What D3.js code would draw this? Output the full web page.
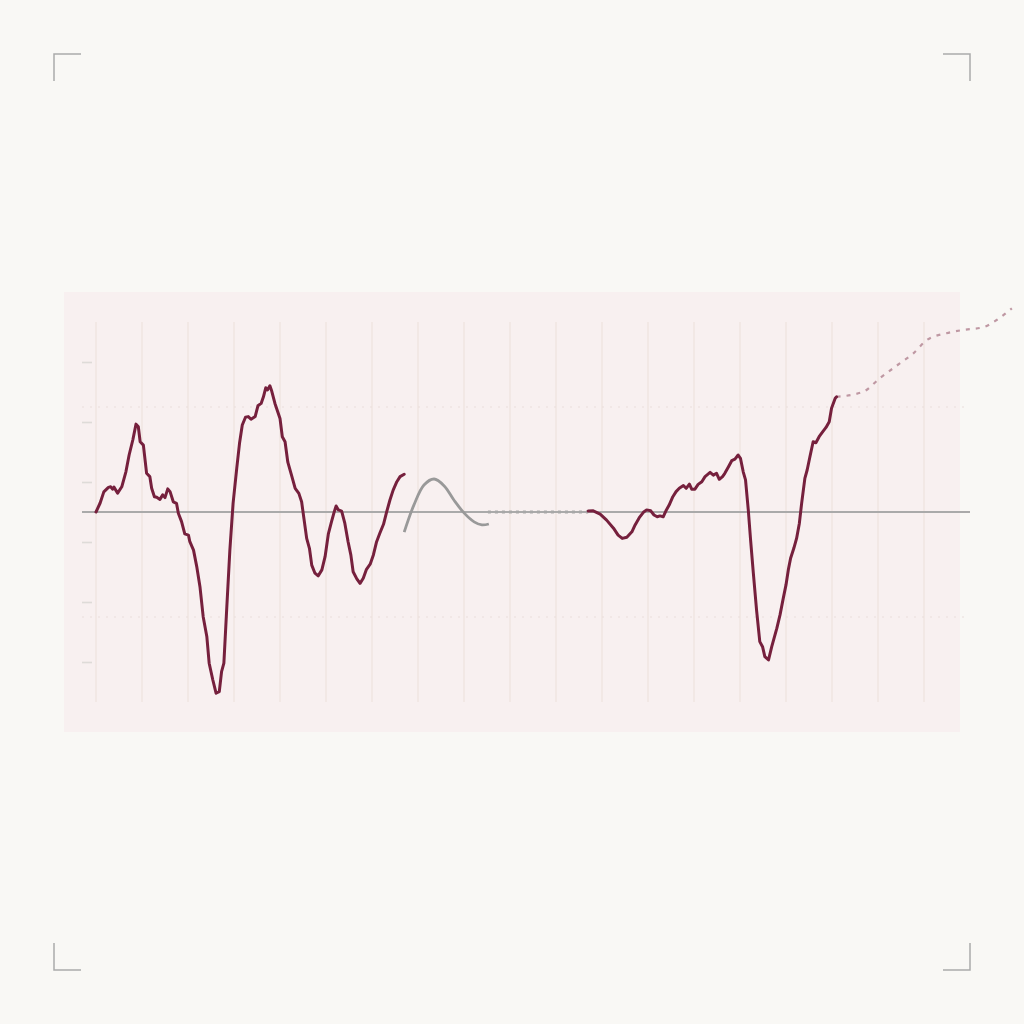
<!DOCTYPE html>
<html>
<head>
<meta charset="utf-8">
<script src="https://cdn.jsdelivr.net/npm/d3@7"></script>
<style>
  html, body { margin: 0; padding: 0; background: #f9f8f5; }
  svg { display: block; font-family: "Noto Sans", sans-serif; }
</style>
</head>
<body>
<svg id="chart" width="1024" height="1024"></svg>
<script>
// x in grid steps (0..18), y in chart units
const xTicks = d3.range(0, 19)
const yTicks = [-5, -3, -1, 1, 3, 5]
const refLevels = [-3.5, 3.5]

const pastX = [0, 0.09, 0.17, 0.27, 0.32, 0.36, 0.39, 0.47, 0.56, 0.65, 0.72, 0.80, 0.87, 0.92, 0.96, 1.03, 1.10, 1.17, 1.21, 1.27, 1.32, 1.39, 1.45, 1.50, 1.56, 1.61, 1.68, 1.75, 1.79, 1.86, 1.93, 2.01, 2.04, 2.12, 2.19, 2.26, 2.33, 2.41, 2.46, 2.54, 2.61, 2.68, 2.73, 2.78, 2.84, 2.91, 2.98, 3.06, 3.12, 3.18, 3.25, 3.31, 3.37, 3.46, 3.52, 3.59, 3.64, 3.69, 3.73, 3.78, 3.82, 3.89, 4.00, 4.05, 4.11, 4.17, 4.25, 4.33, 4.41, 4.47, 4.58, 4.64, 4.69, 4.76, 4.83, 4.91, 4.98, 5.05, 5.12, 5.18, 5.22, 5.27, 5.34, 5.41, 5.48, 5.54, 5.59, 5.67, 5.74, 5.81, 5.88, 5.96, 6.03, 6.10, 6.17, 6.25, 6.32, 6.39, 6.46, 6.54, 6.61, 6.70]
const pastY = [0, 0.30, 0.67, 0.82, 0.84, 0.76, 0.83, 0.63, 0.84, 1.34, 1.90, 2.40, 2.93, 2.84, 2.34, 2.23, 1.29, 1.18, 0.79, 0.51, 0.49, 0.42, 0.57, 0.48, 0.77, 0.68, 0.34, 0.29, -0.04, -0.32, -0.73, -0.77, -0.99, -1.27, -1.82, -2.49, -3.49, -4.16, -5.04, -5.60, -6.04, -5.99, -5.32, -5.04, -3.27, -1.27, 0.29, 1.46, 2.29, 2.90, 3.16, 3.18, 3.09, 3.18, 3.54, 3.62, 3.84, 4.14, 4.07, 4.21, 4.03, 3.62, 3.12, 2.51, 2.34, 1.66, 1.23, 0.79, 0.62, 0.34, -0.88, -1.21, -1.77, -2.04, -2.13, -1.93, -1.49, -0.74, -0.32, 0.01, 0.20, 0.07, 0.03, -0.38, -0.99, -1.43, -1.99, -2.23, -2.38, -2.21, -1.91, -1.74, -1.43, -0.99, -0.71, -0.41, 0.01, 0.40, 0.73, 1.01, 1.18, 1.26]

const waveX = [6.70, 6.91, 7.13, 7.35, 7.57, 7.78, 8.00, 8.22, 8.39, 8.54]
const waveY = [-0.67, 0.23, 0.90, 1.10, 0.87, 0.40, -0.03, -0.33, -0.43, -0.40]

const gapX = [8.52, 10.70]
const gapY = [0, 0]

const recentX = [10.70, 10.81, 10.96, 11.10, 11.25, 11.35, 11.44, 11.54, 11.65, 11.72, 11.81, 11.90, 11.97, 12.06, 12.13, 12.20, 12.26, 12.33, 12.39, 12.46, 12.54, 12.61, 12.68, 12.77, 12.83, 12.90, 12.95, 13.02, 13.09, 13.17, 13.24, 13.35, 13.42, 13.49, 13.55, 13.62, 13.67, 13.75, 13.82, 13.89, 13.96, 14.01, 14.07, 14.12, 14.18, 14.23, 14.29, 14.36, 14.43, 14.49, 14.54, 14.62, 14.69, 14.80, 14.87, 14.94, 15.00, 15.05, 15.10, 15.17, 15.23, 15.29, 15.34, 15.41, 15.46, 15.52, 15.59, 15.65, 15.72, 15.80, 15.87, 15.94, 15.99, 16.07, 16.10]
const recentY = [0.03, 0.04, -0.07, -0.27, -0.54, -0.77, -0.88, -0.84, -0.66, -0.43, -0.19, -0.01, 0.07, 0.04, -0.10, -0.16, -0.13, -0.16, 0.04, 0.23, 0.51, 0.68, 0.79, 0.88, 0.79, 0.93, 0.76, 0.76, 0.92, 1.01, 1.18, 1.32, 1.23, 1.29, 1.09, 1.18, 1.29, 1.51, 1.71, 1.76, 1.90, 1.79, 1.34, 1.07, 0.07, -0.93, -2.04, -3.27, -4.32, -4.49, -4.82, -4.93, -4.49, -3.88, -3.43, -2.88, -2.43, -1.93, -1.54, -1.21, -0.88, -0.38, 0.29, 1.12, 1.40, 1.84, 2.34, 2.31, 2.51, 2.68, 2.82, 3.01, 3.46, 3.79, 3.84]

const forecastX = [16.10, 16.68, 17.04, 17.48, 17.77, 18.06, 18.49, 18.86, 19.29, 19.58, 19.91]
const forecastY = [3.84, 4.01, 4.46, 4.96, 5.29, 5.73, 5.96, 6.07, 6.16, 6.40, 6.79]

const svg = d3.select("#chart")

const x = d3.scaleLinear().domain([0, 18]).range([96, 924])
const y = d3.scaleLinear().domain([-5, 5]).range([662, 362])

// corner marks
const corners = [[54, 54, 1, 1], [970, 54, -1, 1], [54, 970, 1, -1], [970, 970, -1, -1]]
svg.append("g").selectAll("path").data(corners).join("path")
    .attr("d", d => `M${d[0] + 27 * d[2]},${d[1]}H${d[0]}V${d[1] + 27 * d[3]}`)
    .attr("fill", "none").attr("stroke", "#aaa").attr("stroke-width", 1.5)

// panel
svg.append("rect")
    .attr("x", 64).attr("y", 292).attr("width", 896).attr("height", 440)
    .attr("fill", "#f8f0f0")

// vertical grid
svg.append("g").selectAll("line").data(xTicks).join("line")
    .attr("x1", d => x(d)).attr("x2", d => x(d))
    .attr("y1", y(5) - 40).attr("y2", y(-5) + 40)
    .attr("stroke", "#f1e6e2").attr("stroke-width", 1.5)

// dotted reference levels
svg.append("g").selectAll("line").data(refLevels).join("line")
    .attr("x1", 82).attr("x2", 964)
    .attr("y1", d => y(d)).attr("y2", d => y(d))
    .attr("stroke", "#e9dedb").attr("stroke-width", 1.2)
    .attr("stroke-dasharray", "2,6")

// left ticks
const yAxis = d3.axisLeft(y).tickValues(yTicks).tickSize(10).tickFormat("")
const ya = svg.append("g").attr("transform", "translate(92,0)").call(yAxis)
ya.select(".domain").remove()
ya.selectAll(".tick line").attr("stroke", "#dedbd8").attr("stroke-width", 1.6)

// zero line
svg.append("line")
    .attr("x1", 82).attr("x2", 970).attr("y1", y(0)).attr("y2", y(0))
    .attr("stroke", "#aaa").attr("stroke-width", 1.8)

const line = d3.line().x(d => x(d[0])).y(d => y(d[1]))
const zip = (a, b) => a.map((v, i) => [v, b[i]])

svg.append("path").datum(zip(gapX, gapY))
    .attr("d", line).attr("fill", "none")
    .attr("stroke", "#a8a8a8").attr("stroke-width", 3)
    .attr("stroke-dasharray", "3,4")

svg.append("path").datum(zip(waveX, waveY))
    .attr("d", line.curve(d3.curveCatmullRom)).attr("fill", "none")
    .attr("stroke", "#999").attr("stroke-width", 2.8)
line.curve(d3.curveLinear)

svg.append("path").datum(zip(forecastX, forecastY))
    .attr("d", line.curve(d3.curveMonotoneX)).attr("fill", "none")
    .attr("stroke", "#bf98a3").attr("stroke-width", 2.2)
    .attr("stroke-dasharray", "4,6")
line.curve(d3.curveLinear)

for (const [xs, ys] of [[pastX, pastY], [recentX, recentY]]) {
    svg.append("path").datum(zip(xs, ys))
        .attr("d", line).attr("fill", "none")
        .attr("stroke", "#76203d").attr("stroke-width", 3)
        .attr("stroke-linejoin", "round").attr("stroke-linecap", "round")
}
</script>
</body>
</html>
